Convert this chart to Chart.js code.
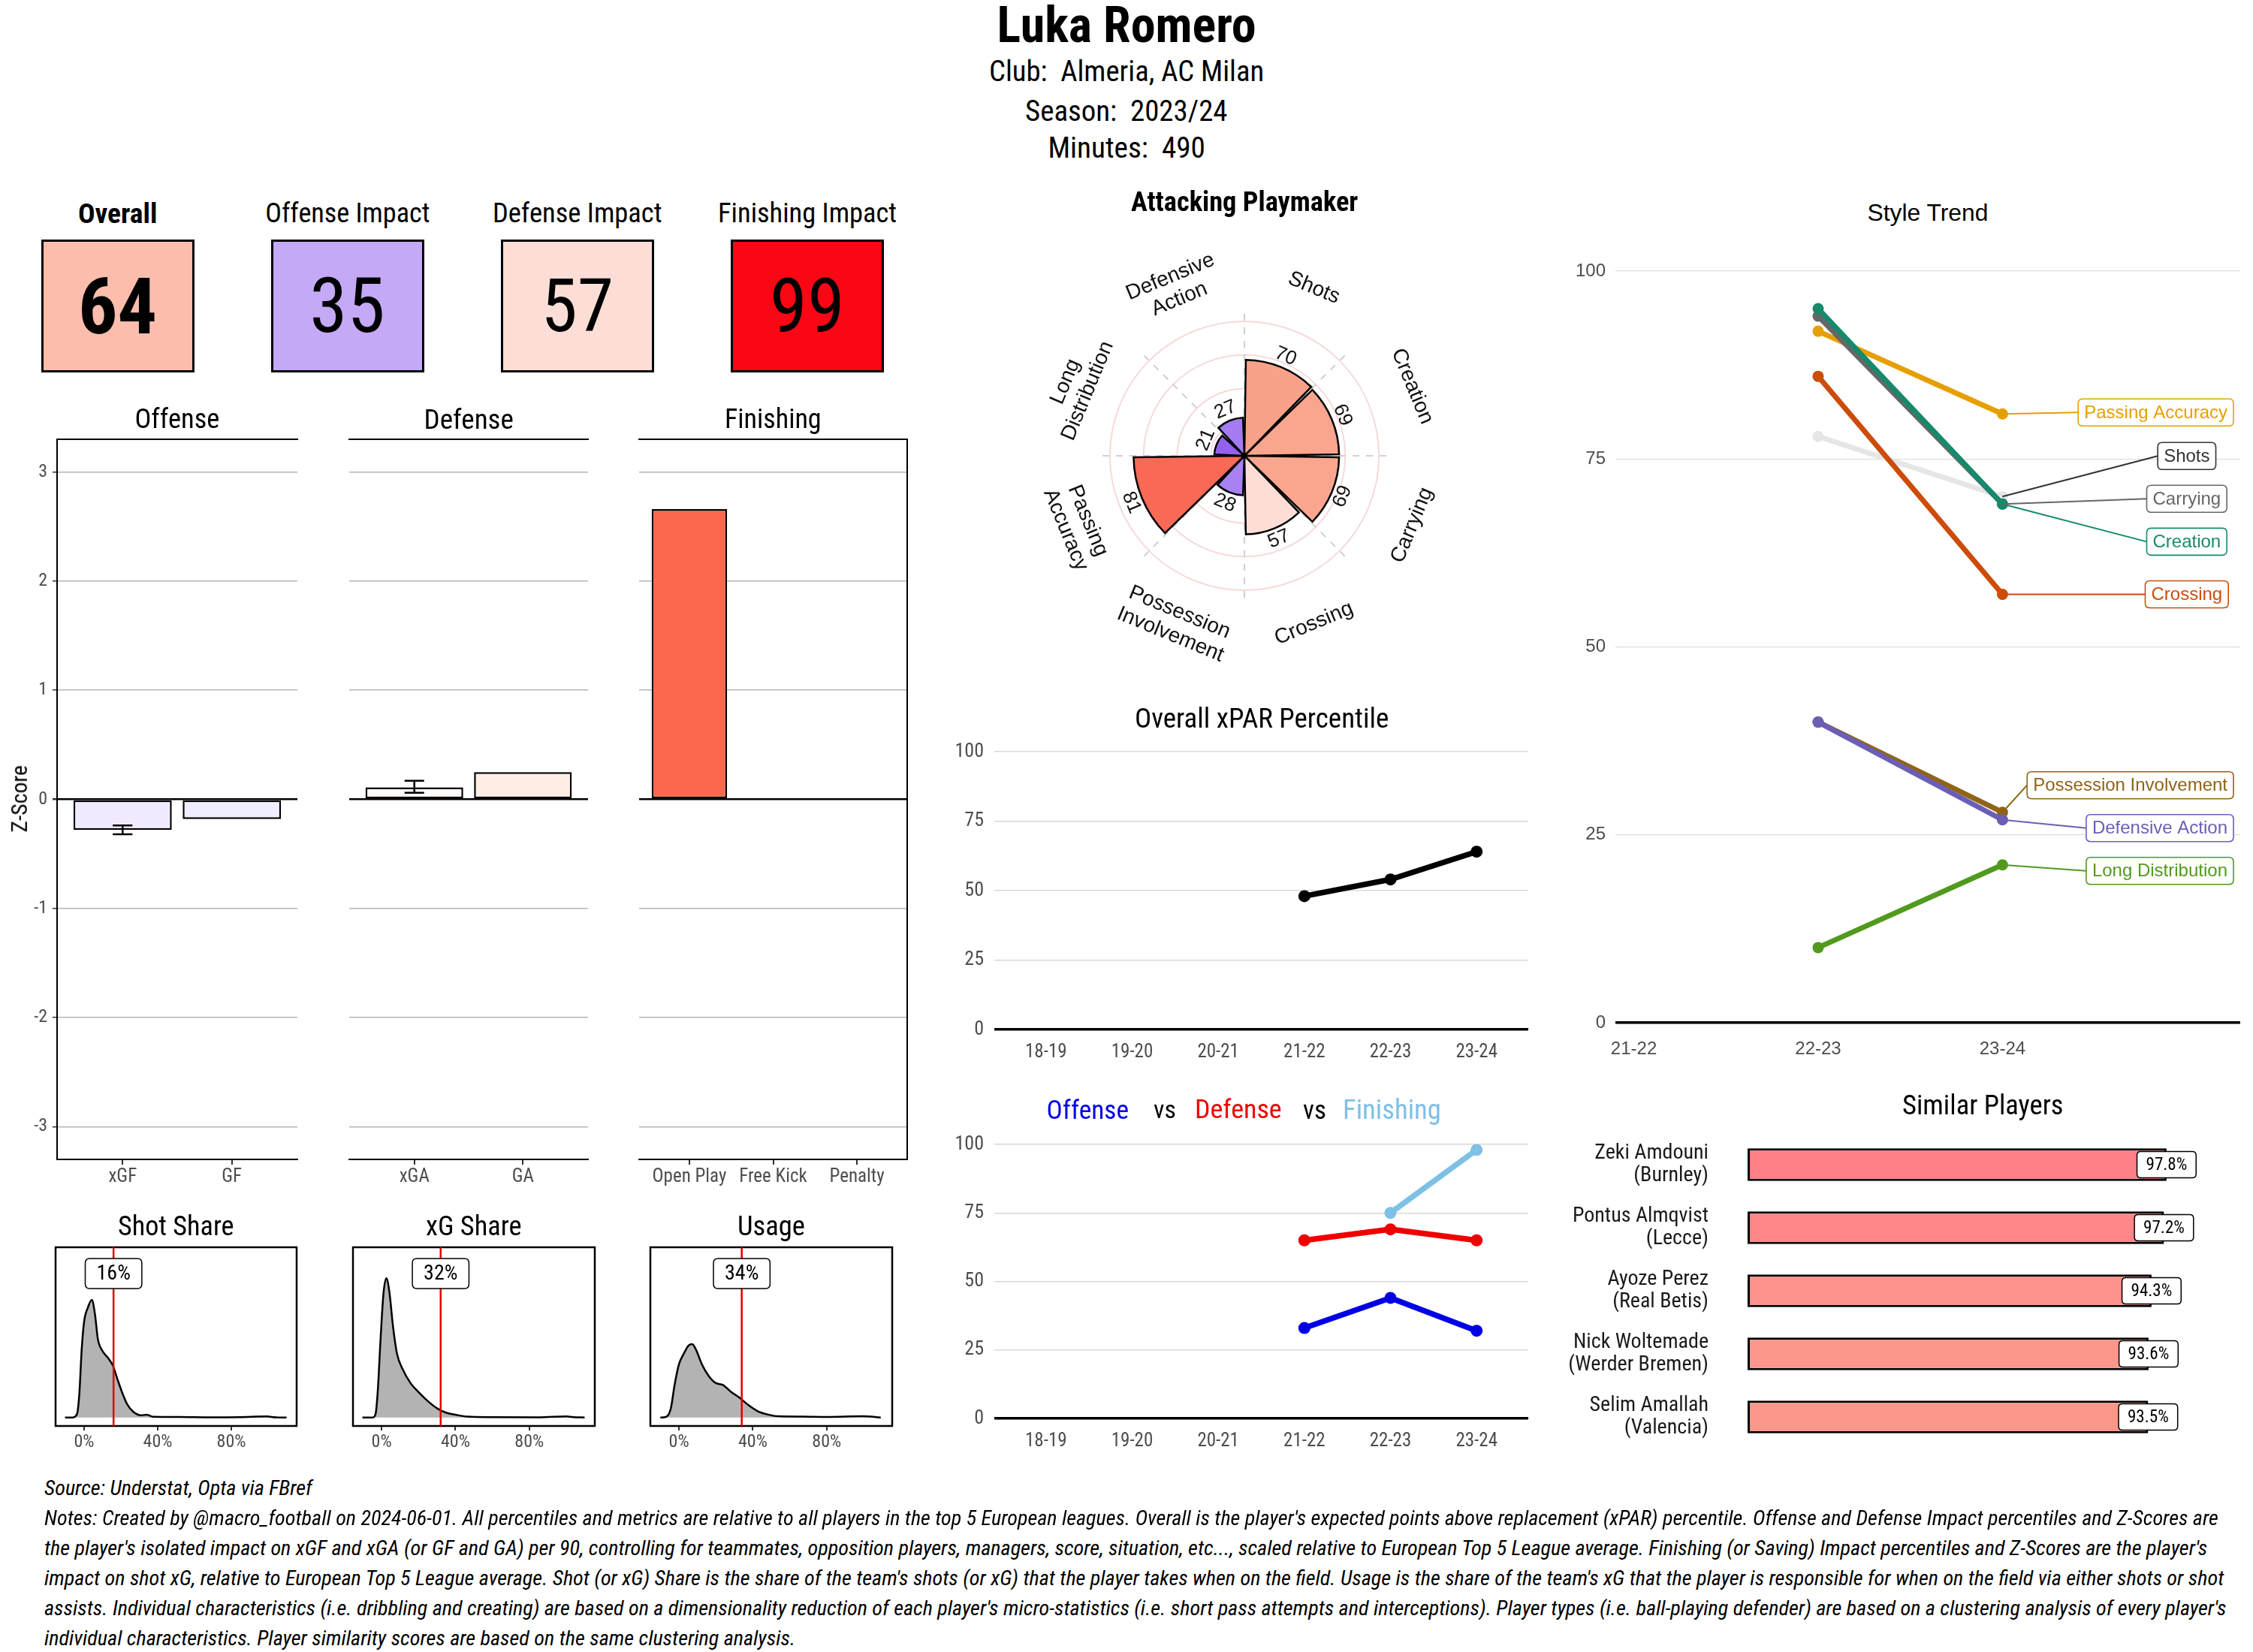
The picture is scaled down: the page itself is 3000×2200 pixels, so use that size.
<!DOCTYPE html>
<html><head><meta charset="utf-8">
<script src="https://cdn.jsdelivr.net/npm/chart.js@4.4.1/dist/chart.umd.min.js"></script>
<style>
html,body{margin:0;padding:0;background:#fff;}
#page{position:relative;width:3000px;height:2200px;overflow:hidden;background:#fff;color:#000;}
.t{position:absolute;white-space:pre;line-height:1;}
canvas{position:absolute;}
.kpi{position:absolute;box-sizing:border-box;border:3px solid #000;}
</style></head><body><div id="page"></div>
<script>
// ---------------- DATA ----------------
const playerName = 'Luka Romero';
const infoLines = ['Club:  Almeria, AC Milan', 'Season:  2023/24', 'Minutes:  490'];
const kpiLabels = ['Overall', 'Offense Impact', 'Defense Impact', 'Finishing Impact'];
const kpiValues = [64, 35, 57, 99];

const zTicks = [-3, -2, -1, 0, 1, 2, 3];
const offenseCats = ['xGF', 'GF'];
const offenseZ = [-0.28, -0.18];
const offenseErrLow = [-0.32, null];
const offenseErrHigh = [-0.24, null];
const defenseCats = ['xGA', 'GA'];
const defenseZ = [0.11, 0.25];
const defenseErrLow = [0.06, null];
const defenseErrHigh = [0.17, null];
const finishingCats = ['Open Play', 'Free Kick', 'Penalty'];
const finishingZ = [2.66, 0, 0];

const shareTitles = ['Shot Share', 'xG Share', 'Usage'];
const shareValues = [16, 32, 34];
const shareTicks = [0, 40, 80];
const shotShareX = [-10.4,-6.5,-3.9,-2.6,-1.3,0,2.0,4.2,5.9,7.5,9.8,13,15.6,17.9,20.5,23.4,26.7,30.9,34.2,37.4,52.1,68.3,84.6,99.3,104.1,110];
const shotShareY = [0,0,1.9,13.7,40.1,56.3,64.4,69.1,60.7,46,39.4,35,30.6,23.2,15.2,7.8,3.4,1.3,1.6,0.4,0.3,0.1,0.2,0.6,0.1,0];
const xgShareX = [-10.4,-4.9,-3.3,-2.0,-0.7,1.0,2.6,4.2,6.2,8.4,11.4,15.6,20.5,25.4,30.3,35.2,40,46.5,59.6,85.6,100.2,105.1,110];
const xgShareY = [0,0,1.9,16.6,43.1,72.5,81.8,74,53.4,37.2,28.4,20.3,14.4,9.3,5.2,2.7,1.6,0.5,0.2,0.1,0.6,0.1,0];
const usageX = [-10.1,-7.1,-4.5,-2.3,0,2.6,5.2,7.2,9.4,12.4,15.9,19.8,23.8,28,32.9,37.8,42.6,47.5,54,67,80,99.6,109.3];
const usageY = [0,0.3,4.9,19.6,31.3,37.5,42.3,43.1,39.4,31.3,24.7,20.3,19.1,15.2,11.5,7.1,3.7,1.9,0.7,0.5,0.3,0.7,0];

const styleCats = ['Shots', 'Creation', 'Carrying', 'Crossing', 'Possession Involvement', 'Passing Accuracy', 'Long Distribution', 'Defensive Action'];
const styleValues = [70, 69, 69, 57, 28, 81, 21, 27];

const seasons = ['18-19', '19-20', '20-21', '21-22', '22-23', '23-24'];
const percentileTicks = [0, 25, 50, 75, 100];
const xparPercentile = [null, null, null, 48, 54, 64];
const offenseTrend = [null, null, null, 33, 44, 32];
const defenseTrend = [null, null, null, 65, 69, 65];
const finishingTrend = [null, null, null, null, 75, 98];

const trendSeasons = ['21-22', '22-23', '23-24'];
const trendCreation = [null, 95, 69];
const trendCarrying = [null, 94, 69];
const trendPassing = [null, 92, 81];
const trendCrossing = [null, 86, 57];
const trendDefensive = [null, 40, 27];
const trendPossession = [null, 40, 28];
const trendLongDist = [null, 10, 21];
const trendShots = [null, 78, 70];

const similarNames = ['Zeki Amdouni', 'Pontus Almqvist', 'Ayoze Perez', 'Nick Woltemade', 'Selim Amallah'];
const similarClubs = ['Burnley', 'Lecce', 'Real Betis', 'Werder Bremen', 'Valencia'];
const similarScores = [97.8, 97.2, 94.3, 93.6, 93.5];

const sourceLine = 'Source: Understat, Opta via FBref';
const noteLines = [
 "Notes: Created by @macro_football on 2024-06-01. All percentiles and metrics are relative to all players in the top 5 European leagues. Overall is the player's expected points above replacement (xPAR) percentile. Offense and Defense Impact percentiles and Z-Scores are",
 "the player's isolated impact on xGF and xGA (or GF and GA) per 90, controlling for teammates, opposition players, managers, score, situation, etc..., scaled relative to European Top 5 League average. Finishing (or Saving) Impact percentiles and Z-Scores are the player's",
 "impact on shot xG, relative to European Top 5 League average. Shot (or xG) Share is the share of the team's shots (or xG) that the player takes when on the field. Usage is the share of the team's xG that the player is responsible for when on the field via either shots or shot",
 "assists. Individual characteristics (i.e. dribbling and creating) are based on a dimensionality reduction of each player's micro-statistics (i.e. short pass attempts and interceptions). Player types (i.e. ball-playing defender) are based on a clustering analysis of every player's",
 "individual characteristics. Player similarity scores are based on the same clustering analysis."
];

// ---------------- STYLE ----------------
const FC = "'Roboto Condensed','Liberation Sans Narrow','Arial Narrow',Roboto,sans-serif";
const FS = "'Liberation Sans',Arial,Helvetica,sans-serif";
Chart.defaults.animation = false;
Chart.defaults.plugins.legend.display = false;
Chart.defaults.plugins.tooltip.enabled = false;
Chart.defaults.font.family = FC;
Chart.defaults.color = '#4d4d4d';

const rampStops = [[0,[106,18,227]],[25,[156,112,240]],[50,[255,255,255]],[75,[249,138,108]],[100,[251,0,16]]];
function ramp(v){
  for(let i=1;i<rampStops.length;i++){
    const [v1,c1]=rampStops[i-1],[v2,c2]=rampStops[i];
    if(v<=v2){const t=(v-v1)/(v2-v1);return 'rgb('+c1.map((c,k)=>Math.round(c+(c2[k]-c)*t)).join(',')+')';}
  }
  return 'rgb(251,0,16)';
}
const offenseColors = ['#f1eaff', '#eeeefe'];
const defenseColors = ['#fffaf8', '#feeee6'];
const finishingColors = ['#fa694c', '#ffffff', '#ffffff'];
const similarColors = ['#ff7f87', '#ff878a', '#fd918b', '#fc978b', '#fb988b'];

const page = document.getElementById('page');

function rr(ctx,x,y,w,h,r){ctx.beginPath();ctx.moveTo(x+r,y);ctx.lineTo(x+w-r,y);ctx.quadraticCurveTo(x+w,y,x+w,y+r);ctx.lineTo(x+w,y+h-r);ctx.quadraticCurveTo(x+w,y+h,x+w-r,y+h);ctx.lineTo(x+r,y+h);ctx.quadraticCurveTo(x,y+h,x,y+h-r);ctx.lineTo(x,y+r);ctx.quadraticCurveTo(x,y,x+r,y);ctx.closePath();}

// ---------------- PLUGINS ----------------
const framePlugin = {id:'frame', afterDatasetsDraw(chart,args,o){
  if(!o || !o.sides) return; const {ctx,chartArea:a}=chart;
  ctx.save(); ctx.strokeStyle=o.color||'#000'; ctx.lineWidth=o.width||2; ctx.lineCap='square'; ctx.beginPath();
  o.sides.forEach(s=>{
    if(s==='top'){ctx.moveTo(a.left,a.top);ctx.lineTo(a.right,a.top);}
    if(s==='bottom'){ctx.moveTo(a.left,a.bottom);ctx.lineTo(a.right,a.bottom);}
    if(s==='left'){ctx.moveTo(a.left,a.top);ctx.lineTo(a.left,a.bottom);}
    if(s==='right'){ctx.moveTo(a.right,a.top);ctx.lineTo(a.right,a.bottom);}
  });
  ctx.stroke(); ctx.restore();
}};
const vlinePlugin = {id:'vline', afterDatasetsDraw(chart,args,o){
  if(!o || o.value==null) return; const {ctx,chartArea:a}=chart; const x=chart.scales.x.getPixelForValue(o.value);
  ctx.save(); ctx.strokeStyle=o.color; ctx.lineWidth=o.width; ctx.beginPath(); ctx.moveTo(x,a.top); ctx.lineTo(x,a.bottom); ctx.stroke(); ctx.restore();
}};
const errPlugin = {id:'errbars', afterDatasetsDraw(chart,args,o){
  if(!o || !o.lo) return; const {ctx}=chart; const xs=chart.scales.x, ys=chart.scales.y;
  ctx.save(); ctx.strokeStyle='#000'; ctx.lineWidth=2.5;
  o.lo.forEach((lo,i)=>{ if(lo==null) return; const hi=o.hi[i];
    const px=xs.getPixelForValue(i+1), hw=xs.getPixelForValue(i+1+o.cap)-px;
    const y1=ys.getPixelForValue(lo), y2=ys.getPixelForValue(hi);
    ctx.beginPath(); ctx.moveTo(px,y1); ctx.lineTo(px,y2);
    ctx.moveTo(px-hw,y1); ctx.lineTo(px+hw,y1); ctx.moveTo(px-hw,y2); ctx.lineTo(px+hw,y2); ctx.stroke();
  });
  ctx.restore();
}};
const tagPlugin = {id:'tags', afterDatasetsDraw(chart,args,o){
  if(!o || !o.items) return; const {ctx}=chart; const xs=chart.scales.x, ys=chart.scales.y;
  ctx.save(); ctx.font=o.font;
  o.items.forEach(it=>{
    const px=xs.getPixelForValue(it.x), py=ys.getPixelForValue(it.y);
    const w=ctx.measureText(it.text).width+2*o.padX, h=o.h;
    rr(ctx,px-w/2,py-h/2,w,h,o.r); ctx.fillStyle='#fff'; ctx.fill(); ctx.lineWidth=o.lw; ctx.strokeStyle='#000'; ctx.stroke();
    ctx.fillStyle='#000'; ctx.textAlign='center'; ctx.textBaseline='middle'; ctx.fillText(it.text,px,py+1);
  });
  ctx.restore();
}};
const polarLabelPlugin = {id:'polarLabels', afterDatasetsDraw(chart,args,o){
  if(!o || !o.cats) return; const s=chart.scales.r, {ctx}=chart, n=o.cats.length;
  ctx.save(); ctx.fillStyle='#111'; ctx.textAlign='center'; ctx.textBaseline='middle';
  for(let i=0;i<n;i++){
    const ang=(i+0.5)*2*Math.PI/n; let rot=ang%Math.PI; if(rot>Math.PI/2) rot-=Math.PI;
    const put=(dist,lines,font,lh)=>{const px=s.xCenter+dist*Math.sin(ang), py=s.yCenter-dist*Math.cos(ang);
      ctx.save(); ctx.translate(px,py); ctx.rotate(rot); ctx.font=font;
      lines.forEach((l,k)=>ctx.fillText(l,0,(k-(lines.length-1)/2)*lh)); ctx.restore();};
    put(s.getDistanceFromCenterForValue(o.vals[i]+o.valOffset),[String(o.vals[i])],o.valFont,0);
    put(s.getDistanceFromCenterForValue(o.catR),o.cats[i].split(' '),o.catFont,o.lh);
  }
  ctx.restore();
}};
const repelPlugin = {id:'repel', afterDatasetsDraw(chart,args,o){
  if(!o || !o.items) return; const {ctx,chartArea:a}=chart, xs=chart.scales.x, ys=chart.scales.y;
  ctx.save(); ctx.font=o.font;
  o.items.forEach(it=>{
    const px=xs.getPixelForValue(it.px), py=ys.getPixelForValue(it.py);
    const bw=ctx.measureText(it.text).width+2*o.padX, bh=o.h;
    let left=xs.getPixelForValue(o.cx)-bw/2; if(left+bw>a.right-o.margin) left=a.right-o.margin-bw;
    const cy=ys.getPixelForValue(it.ly);
    ctx.strokeStyle=it.color; ctx.lineWidth=2; ctx.beginPath(); ctx.moveTo(px,py); ctx.lineTo(left,cy); ctx.stroke();
    rr(ctx,left,cy-bh/2,bw,bh,6); ctx.fillStyle='#fff'; ctx.fill(); ctx.lineWidth=1.6; ctx.strokeStyle=it.color; ctx.stroke();
    ctx.fillStyle=it.color; ctx.textAlign='center'; ctx.textBaseline='middle'; ctx.fillText(it.text,left+bw/2,cy+1);
  });
  ctx.restore();
}};
Chart.register(framePlugin, vlinePlugin, errPlugin, tagPlugin, polarLabelPlugin, repelPlugin);

// ---------------- HELPERS ----------------
function mkCanvas(rect, area, yW, xH){
  const c=document.createElement('canvas'); c.width=rect.w; c.height=rect.h;
  Object.assign(c.style,{left:rect.l+'px',top:rect.t+'px',width:rect.w+'px',height:rect.h+'px'});
  page.appendChild(c);
  return {c, padding:{left:area.l-rect.l-yW, top:area.t-rect.t, right:rect.l+rect.w-area.r, bottom:rect.t+rect.h-area.b-xH}};
}
function txt(s,x,y,size,o={}){
  const d=document.createElement('div'); d.className='t'; d.textContent=s;
  d.style.fontSize=size+'px'; d.style.fontFamily=o.family||FC; d.style.fontWeight=o.bold?'700':'400';
  if(o.color) d.style.color=o.color; if(o.italic) d.style.fontStyle='italic';
  page.appendChild(d);
  if(o.fit){ const k=Math.max(0.75,Math.min(1.35,o.fit/d.offsetWidth)); d.style.fontSize=(size*k)+'px'; }
  const w=d.offsetWidth, h=d.offsetHeight;
  d.style.left=(x-w/2)+'px'; d.style.top=(y-h/2)+'px';
  if(o.rot) d.style.transform='rotate('+o.rot+'deg)';
  return d;
}

// ---------------- CHARTS ----------------
function zFacet(o){
  const {c,padding}=mkCanvas(o.rect,o.area,o.yW,42);
  new Chart(c,{type:'bar',
    data:{datasets:[{data:o.vals.map((v,i)=>({x:i+1,y:v})),backgroundColor:o.colors,borderColor:'#000',borderWidth:2.5,borderSkipped:false,categoryPercentage:1,barPercentage:0.9}]},
    options:{responsive:false,layout:{padding},
      scales:{
        x:{type:'linear',offset:false,min:0.4,max:o.cats.length+0.6,
          afterBuildTicks:s=>{s.ticks=o.cats.map((_,i)=>({value:i+1}));},afterFit:s=>{s.height=42;},
          ticks:{autoSkip:false,maxRotation:0,font:{size:25,family:FC},color:'#4d4d4d',padding:2,callback:v=>o.cats[v-1]},
          grid:{offset:false,drawOnChartArea:false,drawTicks:true,tickLength:7,color:'#333',lineWidth:2},border:{display:false}},
        y:{min:-3.3,max:3.3,afterBuildTicks:s=>{s.ticks=zTicks.map(v=>({value:v}));},afterFit:s=>{s.width=o.yW;},
          ticks:{display:o.showY,font:{size:24,family:FC},color:'#4d4d4d',padding:7,callback:v=>String(v)},
          grid:{drawTicks:o.showY,tickLength:6,tickColor:'#333',color:c=>(c.tick&&c.tick.value===0)?'#000':'#b5b5b5',lineWidth:c=>(c.tick&&c.tick.value===0)?2.5:1.5},
          border:{display:false}}
      },
      plugins:{frame:{sides:o.sides,width:2},errbars:o.lo?{lo:o.lo,hi:o.hi,cap:0.09}:{}}
    }});
}
zFacet({rect:{l:0,t:545,w:410,h:1055},area:{l:76,t:585,r:396,b:1544},yW:76,showY:true,cats:offenseCats,vals:offenseZ,colors:offenseColors,lo:offenseErrLow,hi:offenseErrHigh,sides:['top','bottom','left']});
zFacet({rect:{l:420,t:545,w:380,h:1055},area:{l:465,t:585,r:783,b:1544},yW:0,showY:false,cats:defenseCats,vals:defenseZ,colors:defenseColors,lo:defenseErrLow,hi:defenseErrHigh,sides:['top','bottom']});
zFacet({rect:{l:810,t:545,w:420,h:1055},area:{l:851,t:585,r:1208,b:1544},yW:0,showY:false,cats:finishingCats,vals:finishingZ,colors:finishingColors,sides:['top','bottom','right']});

function densityChart(rect,area,xs,ys,value){
  const {c,padding}=mkCanvas(rect,area,0,42);
  new Chart(c,{type:'line',
    data:{datasets:[{data:xs.map((x,i)=>({x,y:ys[i]})),fill:'origin',backgroundColor:'#b3b3b3',borderColor:'#000',borderWidth:2.5,pointRadius:0,cubicInterpolationMode:'monotone'}]},
    options:{responsive:false,layout:{padding},
      scales:{
        x:{type:'linear',min:-15.5,max:115.5,afterBuildTicks:s=>{s.ticks=shareTicks.map(v=>({value:v}));},afterFit:s=>{s.height=42;},
          ticks:{autoSkip:false,maxRotation:0,font:{size:24,family:FC},color:'#4d4d4d',padding:2,callback:v=>v+'%'},
          grid:{drawOnChartArea:false,drawTicks:true,tickLength:6,color:'#333',lineWidth:2},border:{display:false}},
        y:{display:false,min:-5,max:100}
      },
      plugins:{frame:{sides:['top','bottom','left','right'],width:2.5},vline:{value,color:'#e00000',width:2.5},
        tags:{items:[{x:value,y:84.6,text:value+'%'}],font:'28px '+FC,padX:15,h:40,r:6,lw:1.5}}
    }});
}
densityChart({l:40,t:1640,w:390,h:320},{l:74,t:1661,r:395,b:1899},shotShareX,shotShareY,shareValues[0]);
densityChart({l:436,t:1640,w:390,h:320},{l:470,t:1661,r:792,b:1899},xgShareX,xgShareY,shareValues[1]);
densityChart({l:832,t:1640,w:390,h:320},{l:866,t:1661,r:1188,b:1899},usageX,usageY,shareValues[2]);

// Polar
(function(){
  const {c}=mkCanvas({l:1307,t:257,w:700,h:700},{l:1460,t:410,r:1854,b:804},0,0);
  new Chart(c,{type:'polarArea',
    data:{labels:styleCats,datasets:[{data:styleValues,backgroundColor:styleValues.map(ramp),borderColor:'#000',borderWidth:2.5,borderJoinStyle:'miter',spacing:5}]},
    options:{responsive:false,layout:{padding:153},
      scales:{r:{min:0,max:110,afterBuildTicks:s=>{s.ticks=[0,25,50,75,100,110].map(v=>({value:v}));},
        ticks:{display:false},pointLabels:{display:false},
        grid:{circular:true,color:c=>(c.tick&&c.tick.value<=100)?'#f6dada':'rgba(0,0,0,0)',lineWidth:2},
        angleLines:{display:true,color:'#cfcfcf',lineWidth:2,borderDash:[9,9]}}},
      plugins:{polarLabels:{cats:styleCats,vals:styleValues,valOffset:10,catR:135,valFont:'26px '+FS,catFont:'28px '+FS,lh:32}}
    }});
})();

function pctChart(rect,area,datasets){
  const {c,padding}=mkCanvas(rect,area,area.l-rect.l,40);
  new Chart(c,{type:'line',data:{datasets},
    options:{responsive:false,layout:{padding},
      scales:{
        x:{type:'linear',min:0.4,max:6.6,afterBuildTicks:s=>{s.ticks=seasons.map((_,i)=>({value:i+1}));},afterFit:s=>{s.height=40;},
          ticks:{autoSkip:false,maxRotation:0,font:{size:25,family:FC},color:'#4d4d4d',padding:8,callback:v=>seasons[v-1]},
          grid:{display:false},border:{display:false}},
        y:{min:0,max:100,afterBuildTicks:s=>{s.ticks=percentileTicks.map(v=>({value:v}));},afterFit:s=>{s.width=area.l-rect.l;},
          ticks:{font:{size:26,family:FC},color:'#4d4d4d',padding:14},
          grid:{drawTicks:false,color:c=>(c.tick&&c.tick.value===0)?'#000':'#d9d9d9',lineWidth:c=>(c.tick&&c.tick.value===0)?3.5:1.5},border:{display:false}}
      }}});
}
const lineDS=(vals,color)=>({data:vals.map((v,i)=>({x:i+1,y:v})),borderColor:color,backgroundColor:color,borderWidth:7.5,pointRadius:8,pointBorderWidth:0,pointBackgroundColor:color});
pctChart({l:1230,t:960,w:815,h:455},{l:1324,t:1001,r:2035,b:1371},[lineDS(xparPercentile,'#000')]);
pctChart({l:1230,t:1483,w:815,h:452},{l:1324,t:1524,r:2035,b:1889},[lineDS(finishingTrend,'#7ec0e6'),lineDS(defenseTrend,'#ee0000'),lineDS(offenseTrend,'#0000e6')]);

// Style trend
(function(){
  const series=[
    {name:'Creation',vals:trendCreation,color:'#168a6b',lab:'#168a6b',ly:64.0},
    {name:'Carrying',vals:trendCarrying,color:'#666666',lab:'#666666',ly:69.7},
    {name:'Passing Accuracy',vals:trendPassing,color:'#e69f00',lab:'#e69f00',ly:81.2},
    {name:'Crossing',vals:trendCrossing,color:'#cc4c0a',lab:'#cc4c0a',ly:57.0},
    {name:'Defensive Action',vals:trendDefensive,color:'#6a5fb5',lab:'#6a5fb5',ly:25.9},
    {name:'Possession Involvement',vals:trendPossession,color:'#8f6416',lab:'#8f6416',ly:31.6},
    {name:'Long Distribution',vals:trendLongDist,color:'#519a1e',lab:'#519a1e',ly:20.2},
    {name:'Shots',vals:trendShots,color:'#e6e6e6',lab:'#333333',ly:75.4}
  ];
  const rect={l:2050,t:320,w:945,h:1095}, area={l:2151,t:361,r:2983,b:1362};
  const {c,padding}=mkCanvas(rect,area,area.l-rect.l,45);
  new Chart(c,{type:'line',
    data:{datasets:series.map(s=>({data:s.vals.map((v,i)=>({x:i+1,y:v})),borderColor:s.color,backgroundColor:s.color,borderWidth:7,pointRadius:7.5,pointBorderWidth:0,pointBackgroundColor:s.color}))},
    options:{responsive:false,layout:{padding},
      scales:{
        x:{type:'linear',min:0.9,max:4.29,afterBuildTicks:s=>{s.ticks=trendSeasons.map((_,i)=>({value:i+1}));},afterFit:s=>{s.height=45;},
          ticks:{autoSkip:false,maxRotation:0,font:{size:24,family:FS},color:'#4d4d4d',padding:13,callback:v=>trendSeasons[v-1]},
          grid:{display:false},border:{display:false}},
        y:{min:0,max:100,afterBuildTicks:s=>{s.ticks=percentileTicks.map(v=>({value:v}));},afterFit:s=>{s.width=area.l-rect.l;},
          ticks:{font:{size:24,family:FS},color:'#4d4d4d',padding:13},
          grid:{drawTicks:false,color:c=>(c.tick&&c.tick.value===0)?'#000':'#dedede',lineWidth:c=>(c.tick&&c.tick.value===0)?3.5:1.3},border:{display:false}}
      },
      plugins:{repel:{font:'24px '+FS,padX:8,h:36,margin:9,cx:4.0,
        items:series.map(s=>({text:s.name,color:s.lab,px:3,py:s.vals[2],ly:s.ly}))}}
    }});
})();

// Similar players
(function(){
  const rect={l:2040,t:1419,w:955,h:600}, area={l:2327,t:1509,r:2983,b:1929};
  const {c,padding}=mkCanvas(rect,area,area.l-rect.l,0);
  new Chart(c,{type:'bar',
    data:{labels:similarNames.map((n,i)=>[n,'('+similarClubs[i]+')']),
      datasets:[{data:similarScores,backgroundColor:similarColors,borderColor:'#000',borderWidth:3,borderSkipped:false,categoryPercentage:1,barPercentage:0.52}]},
    options:{responsive:false,indexAxis:'y',layout:{padding},
      scales:{
        x:{display:false,min:0,max:115},
        y:{afterFit:s=>{s.width=area.l-rect.l;},ticks:{font:{size:28,family:FC,lineHeight:1.08},color:'#1a1a1a',padding:44},grid:{display:false},border:{display:false}}
      },
      plugins:{tags:{items:similarScores.map((v,i)=>({x:v,y:i,text:v.toFixed(1)+'%'})),font:'23px '+FC,padX:12,h:35,r:5,lw:1.5}}
    }});
})();

// ---------------- HTML TEXT ----------------
txt(playerName,1500,34,68,{bold:true,fit:345});
txt(infoLines[0],1500,95,36,{fit:366});
txt(infoLines[1],1500,148,36,{fit:270});
txt(infoLines[2],1500,197,36,{fit:209});

const kpiLabelW=[105,219,226,238], kpiNumW=[105,101,97,100];
kpiLabels.forEach((lab,i)=>{
  const cx=156.5+i*306.2;
  const b=document.createElement('div'); b.className='kpi';
  Object.assign(b.style,{left:(cx-102)+'px',top:'319px',width:'204px',height:'177px',background:ramp(kpiValues[i])});
  page.appendChild(b);
  txt(String(kpiValues[i]),cx,408,112,{bold:i===0,fit:kpiNumW[i]});
  txt(lab,cx,284,36,{bold:i===0,fit:kpiLabelW[i]});
});

txt('Offense',236,558,38,{fit:113});
txt('Defense',624,558,38,{fit:119});
txt('Finishing',1029.5,558,38,{fit:129});
txt('Z-Score',26,1064,28,{rot:-90,fit:90});
txt(shareTitles[0],234.5,1633,35,{fit:155});
txt(shareTitles[1],631,1633,35,{fit:128});
txt(shareTitles[2],1027,1633,35,{fit:90});
txt('Attacking Playmaker',1657,269,34,{bold:true,fit:303});
txt('Overall xPAR Percentile',1680,957,34,{fit:338});
txt('Offense',1448,1478,35,{color:'#0000e6',fit:110});
txt('vs',1551,1478,35,{fit:30});
txt('Defense',1649,1478,35,{color:'#ee0000',fit:116});
txt('vs',1750.5,1478,35,{fit:31});
txt('Finishing',1853.5,1478,35,{color:'#7ec0e6',fit:131});
txt('Style Trend',2567,284,32,{family:FS,fit:161});
txt('Similar Players',2640,1472,34,{fit:215});

// notes (left aligned, scaled to the reference line width)
(function(){
  const lines=[sourceLine].concat(noteLines); const divs=[];
  lines.forEach((s,i)=>{
    const d=document.createElement('div'); d.className='t'; d.textContent=s;
    Object.assign(d.style,{fontSize:'28px',fontFamily:FC,fontStyle:'italic',left:'59px',transformOrigin:'0 50%'});
    page.appendChild(d); d.style.top=(1982+40*i-d.offsetHeight/2)+'px'; divs.push(d);
  });
  const k=2895/divs[1].offsetWidth;
  divs.forEach(d=>{d.style.transform='scaleX('+k+')';});
})();
</script></body></html>
